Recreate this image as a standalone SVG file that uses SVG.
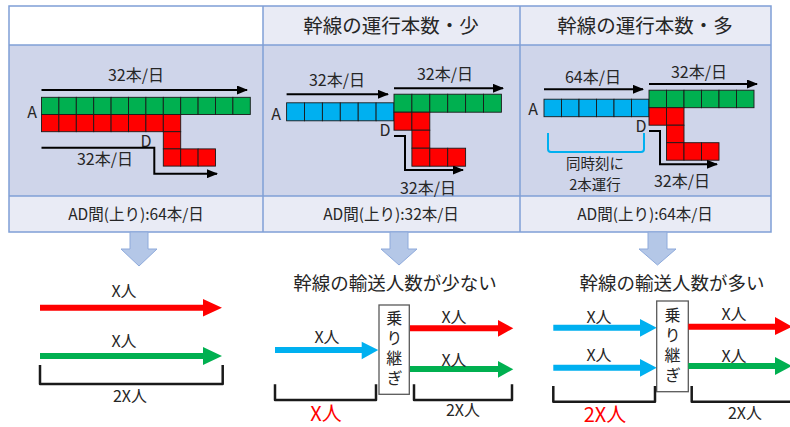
<svg xmlns="http://www.w3.org/2000/svg" width="790" height="427" viewBox="0 0 790 427">
<style>
text{font-family:"Noto Sans CJK JP","Noto Sans",sans-serif;fill:#262626;text-anchor:middle}
.hd{font-size:19.5px}
.ft{font-size:15.5px}
.lb{font-size:16px}
.sm{font-size:14.5px}
.vt{font-size:16px;writing-mode:tb;letter-spacing:4px}
.grid rect{stroke:#1a1a1a;stroke-width:0.9}
.g{fill:#00b050}.r{fill:#ff0000}.b{fill:#00b0f0}
.ln{fill:none;stroke:#000;stroke-width:2;marker-end:url(#ah)}
.blk{fill:#b4c7e7;stroke:#8eaadb;stroke-width:1}
.fat-r{fill:#ff0000}.fat-g{fill:#00b050}.fat-b{fill:#00b0f0}
.br{fill:none;stroke:#1a1a1a;stroke-width:2.5;stroke-linejoin:round}
.box{fill:#fff;stroke:#595959;stroke-width:1.3}
.red{fill:#ff0000;font-size:20px}
</style>
<defs>
<marker id="ah" markerUnits="userSpaceOnUse" markerWidth="11" markerHeight="9" refX="10" refY="4.5" orient="auto">
<path d="M0,0 L11,4.5 L0,9 z" fill="#000"/>
</marker>
</defs>
<rect width="790" height="427" fill="#fff"/>

<g id="table">
<rect x="9" y="6" width="254" height="39" fill="#fff"/>
<rect x="263" y="6" width="508" height="39" fill="#e9ebf5"/>
<rect x="9" y="45" width="762" height="151" fill="#cfd5ea"/>
<rect x="9" y="196" width="762" height="36" fill="#e9ebf5"/>
<g fill="none" stroke="#7f9fd6" stroke-width="1.5">
<rect x="9" y="6" width="762" height="226"/>
<line x1="9" y1="45" x2="771" y2="45"/>
<line x1="9" y1="196" x2="771" y2="196"/>
<line x1="263" y1="6" x2="263" y2="232"/>
<line x1="520" y1="6" x2="520" y2="232"/>
</g>
<text class="hd" x="391" y="33">幹線の運行本数・少</text>
<text class="hd" x="645" y="33">幹線の運行本数・多</text>
<text class="ft" x="136" y="220">AD間(上り):64本/日</text>
<text class="ft" x="391" y="220">AD間(上り):32本/日</text>
<text class="ft" x="645" y="220">AD間(上り):64本/日</text>
</g>

<g id="grid1" class="grid">
<rect class="g" x="41.5" y="97.3" width="17.4" height="17.2"/>
<rect class="g" x="58.9" y="97.3" width="17.4" height="17.2"/>
<rect class="g" x="76.3" y="97.3" width="17.4" height="17.2"/>
<rect class="g" x="93.7" y="97.3" width="17.4" height="17.2"/>
<rect class="g" x="111.1" y="97.3" width="17.4" height="17.2"/>
<rect class="g" x="128.5" y="97.3" width="17.4" height="17.2"/>
<rect class="g" x="145.9" y="97.3" width="17.4" height="17.2"/>
<rect class="g" x="163.3" y="97.3" width="17.4" height="17.2"/>
<rect class="g" x="180.7" y="97.3" width="17.4" height="17.2"/>
<rect class="g" x="198.1" y="97.3" width="17.4" height="17.2"/>
<rect class="g" x="215.5" y="97.3" width="17.4" height="17.2"/>
<rect class="g" x="232.9" y="97.3" width="17.4" height="17.2"/>
<rect class="r" x="41.5" y="114.5" width="17.4" height="17.2"/>
<rect class="r" x="58.9" y="114.5" width="17.4" height="17.2"/>
<rect class="r" x="76.3" y="114.5" width="17.4" height="17.2"/>
<rect class="r" x="93.7" y="114.5" width="17.4" height="17.2"/>
<rect class="r" x="111.1" y="114.5" width="17.4" height="17.2"/>
<rect class="r" x="128.5" y="114.5" width="17.4" height="17.2"/>
<rect class="r" x="145.9" y="114.5" width="17.4" height="17.2"/>
<rect class="r" x="163.3" y="114.5" width="17.4" height="17.2"/>
<rect class="r" x="163.3" y="131.7" width="17.4" height="17.2"/>
<rect class="r" x="163.3" y="148.9" width="17.4" height="17.2"/>
<rect class="r" x="180.7" y="148.9" width="17.4" height="17.2"/>
<rect class="r" x="198.1" y="148.9" width="17.4" height="17.2"/>
</g>
<g id="labels1">
<text class="lb" x="136" y="81">32本/日</text>
<text class="lb" x="32" y="118">A</text>
<text class="lb" x="146" y="147">D</text>
<text class="lb" x="105" y="165">32本/日</text>
</g>

<g id="grid2" class="grid">
<rect class="b" x="286.6" y="102.8" width="17.9" height="18"/>
<rect class="b" x="304.5" y="102.8" width="17.9" height="18"/>
<rect class="b" x="322.4" y="102.8" width="17.9" height="18"/>
<rect class="b" x="340.3" y="102.8" width="17.9" height="18"/>
<rect class="b" x="358.2" y="102.8" width="17.9" height="18"/>
<rect class="b" x="376.1" y="102.8" width="17.9" height="18"/>
<rect class="g" x="394" y="94.2" width="17.9" height="18"/>
<rect class="g" x="411.9" y="94.2" width="17.9" height="18"/>
<rect class="g" x="429.8" y="94.2" width="17.9" height="18"/>
<rect class="g" x="447.7" y="94.2" width="17.9" height="18"/>
<rect class="g" x="465.6" y="94.2" width="17.9" height="18"/>
<rect class="g" x="483.5" y="94.2" width="17.9" height="18"/>
<rect class="r" x="394" y="112.2" width="17.9" height="18"/>
<rect class="r" x="411.9" y="112.2" width="17.9" height="18"/>
<rect class="r" x="411.9" y="130.2" width="17.9" height="18"/>
<rect class="r" x="411.9" y="148.2" width="17.9" height="18"/>
<rect class="r" x="429.8" y="148.2" width="17.9" height="18"/>
<rect class="r" x="447.7" y="148.2" width="17.9" height="18"/>
</g>
<g id="labels2">
<text class="lb" x="337" y="86">32本/日</text>
<text class="lb" x="445" y="80">32本/日</text>
<text class="lb" x="276" y="120">A</text>
<text class="lb" x="385" y="136">D</text>
<text class="lb" x="428" y="194">32本/日</text>
</g>

<g id="grid3" class="grid">
<rect class="b" x="544" y="99.2" width="17.5" height="17.5"/>
<rect class="b" x="561.5" y="99.2" width="17.5" height="17.5"/>
<rect class="b" x="579" y="99.2" width="17.5" height="17.5"/>
<rect class="b" x="596.5" y="99.2" width="17.5" height="17.5"/>
<rect class="b" x="614" y="99.2" width="17.5" height="17.5"/>
<rect class="b" x="631.5" y="99.2" width="17.5" height="17.5"/>
<rect class="g" x="649" y="90.2" width="17.5" height="17.5"/>
<rect class="g" x="666.5" y="90.2" width="17.5" height="17.5"/>
<rect class="g" x="684" y="90.2" width="17.5" height="17.5"/>
<rect class="g" x="701.5" y="90.2" width="17.5" height="17.5"/>
<rect class="g" x="719" y="90.2" width="17.5" height="17.5"/>
<rect class="g" x="736.5" y="90.2" width="17.5" height="17.5"/>
<rect class="r" x="649" y="107.7" width="17.5" height="17.5"/>
<rect class="r" x="666.5" y="107.7" width="17.5" height="17.5"/>
<rect class="r" x="666.5" y="125.2" width="17.5" height="17.5"/>
<rect class="r" x="666.5" y="142.7" width="17.5" height="17.5"/>
<rect class="r" x="684" y="142.7" width="17.5" height="17.5"/>
<rect class="r" x="701.5" y="142.7" width="17.5" height="17.5"/>
</g>
<g id="labels3">
<text class="lb" x="593" y="83">64本/日</text>
<text class="lb" x="699" y="78">32本/日</text>
<text class="lb" x="533" y="115">A</text>
<text class="lb" x="641" y="132">D</text>
<text class="lb" x="682" y="187">32本/日</text>
<path d="M548,133 V149 Q548,152 551,152 H641 Q644,152 644,149 V133" fill="none" stroke="#00b0f0" stroke-width="2"/>
<text class="sm" x="595" y="169">同時刻に</text>
<text class="sm" x="595" y="190">2本運行</text>
</g>

<g id="connectors">
<path class="ln" d="M41.5,90 H247"/>
<path class="ln" d="M41.5,147.7 H154.3 V173.7 H217"/>
<path class="ln" d="M286.6,94.3 H388"/>
<path class="ln" d="M394,88.3 H503"/>
<path class="ln" d="M394,136 H405 V170 H463"/>
<path class="ln" d="M544,89.3 H643"/>
<path class="ln" d="M649,84 H757"/>
<path class="ln" d="M649,131 H660 V164.3 H717"/>
<polygon class="blk" points="130,232 148,232 148,249 157,249 139,266 121,249 130,249"/>
<polygon class="blk" points="390,232 408,232 408,249 417,249 399,265 381,249 390,249"/>
<polygon class="blk" points="648,232 667,232 667,249 676,249 657.5,265 639,249 648,249"/>
</g>

<g id="bottom1">
<path class="fat-r" d="M40,304.7 H203 V299 L222,307.7 L203,316.5 V310.7 H40 Z"/>
<path class="fat-g" d="M40,353 H203 V347 L222,356 L203,365 V359 H40 Z"/>
<text class="lb" x="124" y="297">X人</text>
<text class="lb" x="124" y="347">X人</text>
<path class="br" d="M40,365 V384 H222.7 V365"/>
<text class="lb" x="130" y="402">2X人</text>
</g>

<g id="bottom2">
<text class="hd" x="395" y="290" style="font-size:18.5px">幹線の輸送人数が少ない</text>
<path class="fat-b" d="M275,347 H361.7 V341.7 L378.3,350 L361.7,359.3 V353 H275 Z"/>
<text class="lb" x="327" y="343">X人</text>
<rect class="box" x="379" y="305" width="30.3" height="89.3"/>
<text class="vt" x="394.2" y="350">乗り継ぎ</text>
<path class="fat-r" d="M410,325.3 H498 V320 L513.3,328.3 L498,336.7 V331.3 H410 Z"/>
<path class="fat-g" d="M410,366 H498 V361 L513.3,369.3 L498,377.7 V372 H410 Z"/>
<text class="lb" x="454" y="323">X人</text>
<text class="lb" x="454" y="366">X人</text>
<path class="br" d="M275,384.3 V400 H376 V384.3"/>
<path class="br" d="M414,384.3 V400 H512 V384.3"/>
<text class="red" x="326" y="421">X人</text>
<text class="lb" x="463" y="416">2X人</text>
</g>

<g id="bottom3">
<text class="hd" x="672" y="290" style="font-size:18.5px">幹線の輸送人数が多い</text>
<path class="fat-b" d="M553.3,324.7 H640 V319 L656.7,327.7 L640,336.7 V330.7 H553.3 Z"/>
<path class="fat-b" d="M553.3,364.7 H640 V359 L656.7,367.7 L640,376.7 V370.7 H553.3 Z"/>
<text class="lb" x="599" y="323">X人</text>
<text class="lb" x="599" y="361">X人</text>
<rect class="box" x="656.7" y="301" width="31.6" height="90.7"/>
<text class="vt" x="672.5" y="347">乗り継ぎ</text>
<path class="fat-r" d="M688.3,323.7 H775 V317 L792,326.7 L775,335 V329.7 H688.3 Z"/>
<path class="fat-g" d="M688.3,363 H775 V357 L792,366 L775,375 V369 H688.3 Z"/>
<text class="lb" x="734" y="320">X人</text>
<text class="lb" x="734" y="362">X人</text>
<path class="br" d="M553.3,386 V401.7 H655 V386"/>
<path class="br" d="M691.7,386 V401.7 H795"/>
<text class="red" x="605" y="422">2X人</text>
<text class="lb" x="745" y="419">2X人</text>
</g>
</svg>
